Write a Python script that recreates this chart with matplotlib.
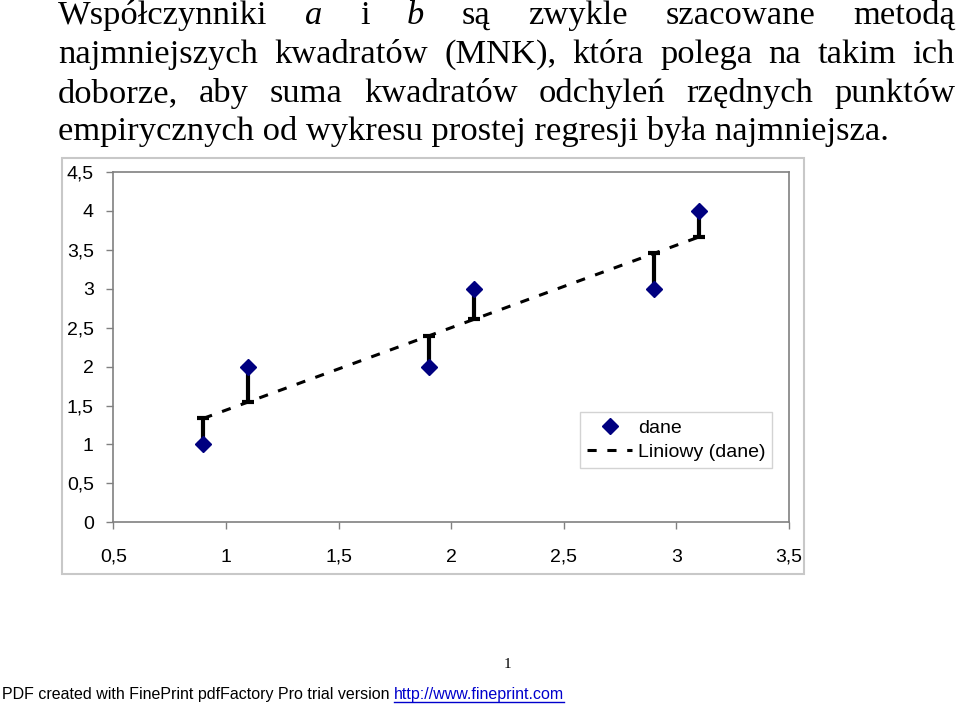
import numpy as np
import matplotlib.pyplot as plt
from matplotlib.patches import Rectangle

# dane z wykresu
x_dane = [0.9, 1.1, 1.9, 2.1, 2.9, 3.1]
y_dane = [1, 2, 2, 3, 3, 4]
x_ticks = [0.5, 1, 1.5, 2, 2.5, 3, 3.5]
y_ticks = [0, 0.5, 1, 1.5, 2, 2.5, 3, 3.5, 4, 4.5]

linie_tekstu = [
    [("Współczynniki", "normal"), ("a", "italic"), ("i", "normal"), ("b", "italic"),
     ("są", "normal"), ("zwykle", "normal"), ("szacowane", "normal"), ("metodą", "normal")],
    [(w, "normal") for w in "najmniejszych kwadratów (MNK), która polega na takim ich".split()],
    [(w, "normal") for w in "doborze, aby suma kwadratów odchyleń rzędnych punktów".split()],
]
ostatnia_linia = "empirycznych od wykresu prostej regresji była najmniejsza."

W, H = 960, 704
fig = plt.figure(figsize=(9.6, 7.04), dpi=100)
r = fig.canvas.get_renderer()

def px(x, y):
    return x / W, 1 - y / H

#tekst wyjustowany
serif = "Liberation Serif"
rozmiar = 24.8
baselines = [24, 63, 102, 140]
x_lewo, x_prawo = 58, 955
for i, linia in enumerate(linie_tekstu):
    teksty = []
    for slowo, styl in linia:
        t = fig.text(0, px(0, baselines[i])[1], slowo, family=serif, style=styl,
                     fontsize=rozmiar, va="baseline", ha="left")
        teksty.append(t)
    szer = [t.get_window_extent(renderer=r).width for t in teksty]
    odstep = (x_prawo - x_lewo - sum(szer)) / (len(teksty) - 1)
    xx = x_lewo
    for t, s in zip(teksty, szer):
        t.set_x(xx / W)
        xx += s + odstep
fig.text(*px(x_lewo, baselines[3]), ostatnia_linia, family=serif, fontsize=rozmiar,
         va="baseline", ha="left")

#ramka wykresu
fig.patches.append(Rectangle(px(62, 574), (804 - 62) / W, (574 - 158) / H,
                             transform=fig.transFigure, fill=False,
                             edgecolor="#c8c8c8", linewidth=1.5))

ax = fig.add_axes([113.3 / W, 1 - 522.3 / H, (789 - 113.3) / W, (522.3 - 172) / H])

#regresja liniowa
a, b = np.polyfit(x_dane, y_dane, 1)
x_arr = np.array(x_dane)
y_fit = a * x_arr + b
y_arr = np.array(y_dane)

ax.plot(x_arr, y_fit, color="black", linestyle=(0, (3, 3.5)), linewidth=2.2,
        label="Liniowy (dane)", zorder=2)

dol = np.where(y_fit < y_arr, y_arr - y_fit, 0)
gora = np.where(y_fit > y_arr, y_fit - y_arr, 0)
ax.errorbar(x_arr, y_arr, yerr=[dol, gora], fmt="none", ecolor="black",
            elinewidth=3, capsize=4, capthick=3, zorder=3)

ax.plot(x_arr, y_arr, linestyle="none", marker="D", markersize=8.5,
        color="#000080", label="dane", zorder=4)

ax.set_xlim(0.5, 3.5)
ax.set_ylim(0, 4.5)
ax.set_xticks(x_ticks)
ax.set_yticks(y_ticks)
ax.set_xticklabels([("%g" % v).replace(".", ",") for v in x_ticks])
ax.set_yticklabels([("%g" % v).replace(".", ",") for v in y_ticks])
ax.tick_params(labelsize=14, length=5, width=1, color="#808080", labelcolor="black")
ax.tick_params(axis="y", pad=9)
ax.tick_params(axis="x", pad=14)
for lab in ax.get_xticklabels() + ax.get_yticklabels():
    lab.set_family("Liberation Sans")
for s in ax.spines.values():
    s.set_color("#808080")
    s.set_linewidth(1.2)

h, l = ax.get_legend_handles_labels()
leg = ax.legend([h[1], h[0]], [l[1], l[0]], loc="lower right",
                bbox_to_anchor=(772 / W, 1 - 468 / H), bbox_transform=fig.transFigure,
                prop={"family": "Liberation Sans", "size": 14}, frameon=True,
                fancybox=False, edgecolor="#c8c8c8", borderpad=0.35,
                handlelength=2.3, handletextpad=0.3, labelspacing=0.35, borderaxespad=0)
leg.get_frame().set_linewidth(1)

#stopka
fig.text(*px(507, 668), "1", family=serif, fontsize=11, ha="center", va="baseline")
t1 = fig.text(*px(2, 699), "PDF created with FinePrint pdfFactory Pro trial version ",
              family="Liberation Sans", fontsize=11.5, ha="left", va="baseline")
sz = t1.get_window_extent(renderer=r).width
link = fig.text((2 + sz) / W, 1 - 699 / H, "http://www.fineprint.com",
                family="Liberation Sans", fontsize=11.5, ha="left", va="baseline",
                color="#0000cc")
lw = link.get_window_extent(renderer=r).width
fig.add_artist(plt.Line2D([(2 + sz) / W, (2 + sz + lw) / W], [1 - 702 / H] * 2,
                          color="#0000cc", linewidth=1, transform=fig.transFigure))

fig.savefig("out.png", dpi=100)
